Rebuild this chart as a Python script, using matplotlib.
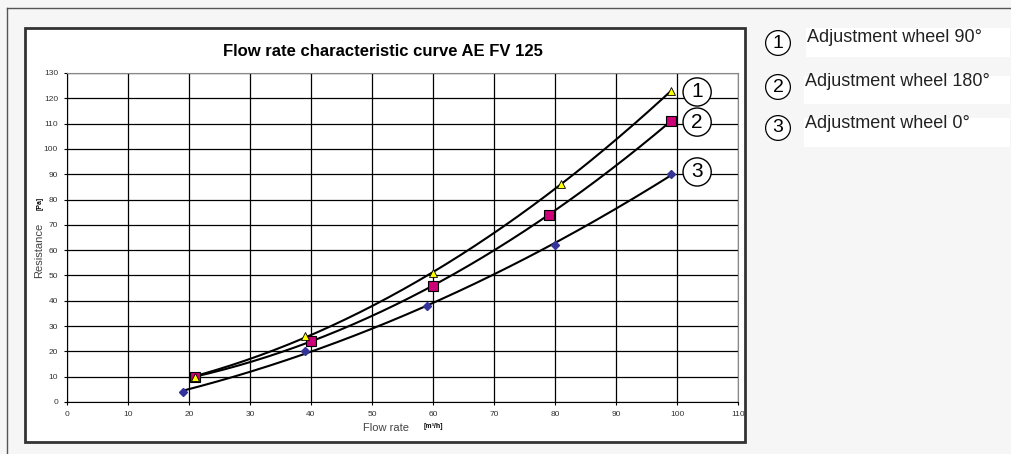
import matplotlib
matplotlib.use("Agg")
import matplotlib.pyplot as plt
import numpy as np
from matplotlib.patches import Rectangle
from matplotlib.lines import Line2D

plt.rcParams['font.family'] = ['Liberation Sans', 'DejaVu Sans']

# data
x_90 = [21, 39, 60, 81, 99]
y_90 = [10, 26, 51, 86, 123]
x_180 = [21, 40, 60, 79, 99]
y_180 = [10, 24, 46, 74, 111]
x_0 = [19, 39, 59, 80, 99]
y_0 = [4, 20, 38, 62, 90]

legend_labels = ["Adjustment wheel 90°", "Adjustment wheel 180°", "Adjustment wheel 0°"]
curve_numbers = ["1", "2", "3"]

W, H = 1012, 454
fig = plt.figure(figsize=(W / 100, H / 100), dpi=100, facecolor='#f6f6f6')


def fx(px):
    return px / W


def fy(py):
    return 1 - py / H


# outer frame lines (top and left)
fig.add_artist(Line2D([fx(7), 1], [fy(8), fy(8)], color='#555555', lw=1, zorder=-2))
fig.add_artist(Line2D([fx(7), fx(7)], [fy(8), 0], color='#555555', lw=1, zorder=-2))

# chart box
fig.add_artist(Rectangle((fx(25), fy(442)), fx(745) - fx(25), fy(28) - fy(442),
                         facecolor='white', edgecolor='#333333', lw=2, zorder=-1))

ax = fig.add_axes([fx(67), fy(402), fx(738) - fx(67), fy(73) - fy(402)])
ax.set_zorder(2)
ax.set_facecolor('white')
ax.set_xlim(0, 110)
ax.set_ylim(0, 130)
ax.set_xticks(np.arange(0, 111, 10))
ax.set_yticks(np.arange(0, 131, 10))
ax.grid(True, color='black', lw=0.9)
ax.set_axisbelow(True)
ax.tick_params(labelsize=6, length=2.5, width=0.8, colors='black', pad=4,
               labelcolor='#333333')
for s in ['top', 'right']:
    ax.spines[s].set_color('#888888')
for s in ['left', 'bottom']:
    ax.spines[s].set_color('black')

# trend curves (quadratic fit through the points)
for xs, ys in [(x_90, y_90), (x_180, y_180), (x_0, y_0)]:
    c = np.polyfit(xs, ys, 2)
    xx = np.linspace(min(xs), max(xs), 200)
    ax.plot(xx, np.polyval(c, xx), color='black', lw=1.5, zorder=3)

ax.plot(x_0, y_0, 'D', ms=4.5, color='#333399', mec='#333399', ls='none', zorder=4)
ax.plot(x_180, y_180, 's', ms=6.5, color='#cc0077', mec='black', mew=0.8, ls='none', zorder=5)
ax.plot(x_90, y_90, '^', ms=6, color='#ffff00', mec='black', mew=0.6, ls='none', zorder=6)

# circled numbers at the curve ends
for num, yv in zip(curve_numbers, [122.5, 110.6, 90.9]):
    ax.text(103.3, yv, num, fontsize=15, ha='center', va='center', zorder=7,
            bbox=dict(boxstyle='circle,pad=0.22', fc='white', ec='black', lw=1))

fig.text(fx(383), fy(52), "Flow rate characteristic curve AE FV 125",
         fontsize=12, fontweight='bold', ha='center', va='center')
fig.text(fx(39), fy(250), "Resistance", rotation=90, fontsize=8,
         color='#444444', ha='center', va='center')
fig.text(fx(40), fy(203), "[Pa]", rotation=90, fontsize=5, fontweight='bold',
         ha='center', va='center')
fig.text(fx(386), fy(428), "Flow rate", fontsize=8, color='#444444',
         ha='center', va='center')
fig.text(fx(433), fy(426), "[m³/h]", fontsize=5, fontweight='bold',
         ha='center', va='center')

# legend on the right
for i, (num, lab) in enumerate(zip(curve_numbers, legend_labels)):
    top = [28, 76, 118][i]
    bot = [57, 104, 147][i]
    x0 = [806, 804, 804][i]
    fig.add_artist(Rectangle((fx(x0), fy(bot)), fx(1010) - fx(x0), fy(top) - fy(bot),
                             facecolor='white', edgecolor='none'))
    cy = [43, 87, 128][i]
    fig.text(fx(778), fy(cy), num, fontsize=14, ha='center', va='center',
             bbox=dict(boxstyle='circle,pad=0.2', fc='white', ec='black', lw=0.9))
    fig.text(fx(x0 + 1), fy([37, 82, 123][i]), lab, fontsize=13, ha='left', va='center',
             color='#222222')

fig.savefig('out.png', dpi=100, facecolor=fig.get_facecolor())
